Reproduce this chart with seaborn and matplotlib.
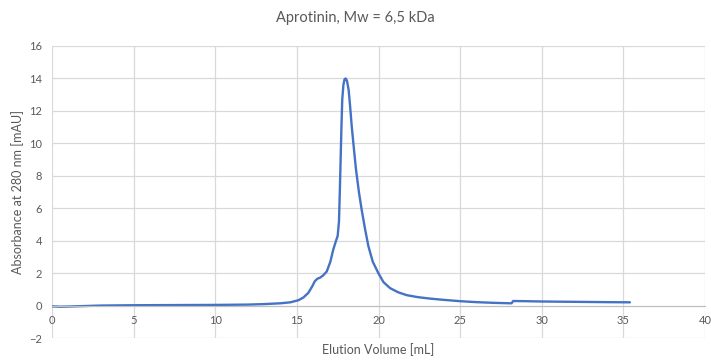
import pandas as pd
import numpy as np
import seaborn as sns
import matplotlib.pyplot as plt

# chromatogram values
volume = [0, 0.5, 1, 2, 3, 5, 7.5, 10, 11, 12, 13, 14, 14.6, 15.1, 15.4, 15.7,
          15.95, 16.1, 16.25, 16.42, 16.6, 16.83, 17.05, 17.23, 17.4, 17.5, 17.58,
          17.63, 17.68, 17.73, 17.78, 17.85, 17.92, 17.99, 18.07, 18.17, 18.26,
          18.36, 18.5, 18.62, 18.8, 18.97, 19.18, 19.38, 19.65, 19.99, 20.3, 20.7,
          21.2, 21.73, 22.4, 23.15, 24, 25, 26, 27, 28.05, 28.15, 28.25, 29, 30,
          32, 34, 35.4]
absorbance = [-0.05, -0.07, -0.06, -0.03, 0, 0.02, 0.03, 0.04, 0.05, 0.06, 0.09,
              0.14, 0.2, 0.33, 0.5, 0.78, 1.2, 1.5, 1.65, 1.72, 1.85, 2.1, 2.7,
              3.45, 4.0, 4.3, 5.2, 7.0, 9.0, 11.0, 12.7, 13.6, 13.95, 14.0, 13.85,
              13.3, 12.3, 11.05, 9.6, 8.4, 7.0, 5.9, 4.7, 3.66, 2.7, 2.0, 1.45,
              1.08, 0.82, 0.64, 0.52, 0.43, 0.35, 0.27, 0.21, 0.17, 0.14, 0.14,
              0.28, 0.27, 0.25, 0.23, 0.21, 0.2]
x_ticks = [0, 5, 10, 15, 20, 25, 30, 35, 40]
y_ticks = [-2, 0, 2, 4, 6, 8, 10, 12, 14, 16]

df = pd.DataFrame({"volume": volume, "absorbance": absorbance})

sns.set_style("white")
plt.rcParams['font.family'] = ['Lato', 'DejaVu Sans']

fig = plt.figure(figsize=(7.11, 3.61), dpi=100)
ax = fig.add_axes([0.0731, 0.0637, 0.9185, 0.8089])

sns.lineplot(data=df, x="volume", y="absorbance", color="#4472C4",
             linewidth=1.7, ax=ax)

ax.set_xlim(0, 40)
ax.set_ylim(-2, 16)
ax.set_xticks(x_ticks)
ax.set_yticks(y_ticks)
ax.grid(True, color="#d9d9d9", linewidth=0.9)
ax.set_axisbelow(True)
for s in ["top", "right", "left"]:
    ax.spines[s].set_visible(False)
ax.spines["bottom"].set_position(("data", 0))
ax.spines["bottom"].set_color("#bfbfbf")
ax.tick_params(length=0, labelsize=8, colors="#595959", pad=7)

ax.set_xlabel("Elution Volume [mL]", fontsize=9, color="#595959", va="center")
ax.xaxis.set_label_coords(0.5, -0.041)
ax.set_ylabel("Absorbance at 280 nm [mAU]", fontsize=9, color="#595959", labelpad=4)
fig.suptitle("Aprotinin, Mw = 6,5 kDa", y=0.97, fontsize=10.5, color="#595959")

fig.savefig("out.png", dpi=100)
